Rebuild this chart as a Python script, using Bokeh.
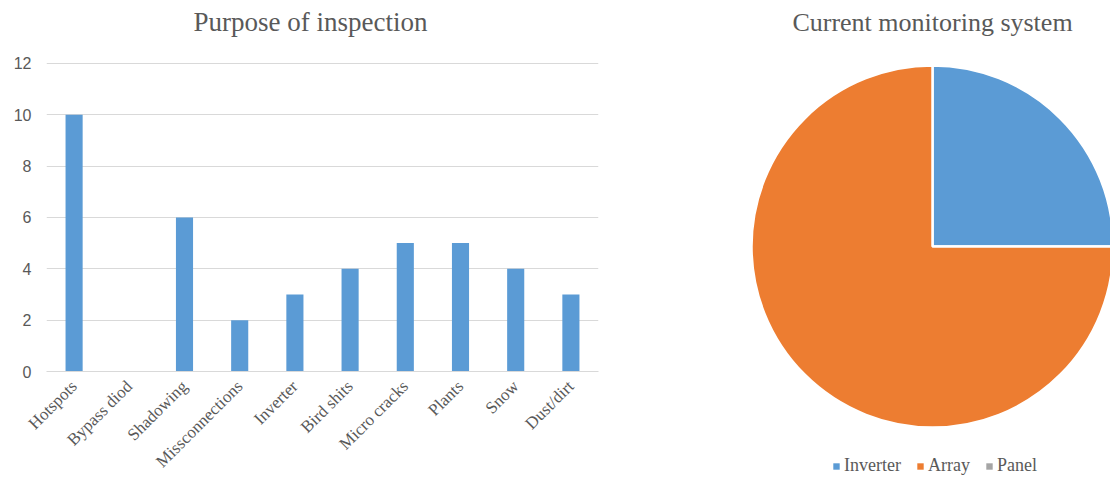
import math
import numpy as np
from bokeh.plotting import figure
from bokeh.models import ColumnDataSource, FixedTicker, Range1d, Label, CDSView, BooleanFilter
from bokeh.layouts import row
from bokeh.embed import file_html
from bokeh.resources import INLINE

# ---- data ----
categories = ["Hotspots", "Bypass diod", "Shadowing", "Missconnections", "Inverter",
              "Bird shits", "Micro cracks", "Plants", "Snow", "Dust/dirt"]
counts = [10, 0, 6, 2, 3, 4, 5, 5, 4, 3]
y_ticks = [0, 2, 4, 6, 8, 10, 12]

pie_labels = ["Inverter", "Array", "Panel"]
pie_values = [1, 3, 0]
pie_colors = ["#5B9BD5", "#ED7D31", "#A5A5A5"]

TEXT = "#595959"
GRID = "#D9D9D9"
SERIF = "Liberation Serif"

# ---- bar chart ----
# frame spans the full height above the axis; the value axis 0..12 occupies the lower 309 px,
# leaving 63 px of headroom for the chart title
AXIS_PX, HEAD_PX = 309, 63
y_max = max(y_ticks)
y_top = y_max + y_max * HEAD_PX / AXIS_PX

p1 = figure(x_range=categories, y_range=Range1d(0, y_top), width=650, height=480,
            output_backend="svg", toolbar_location=None,
            min_border_left=46, min_border_right=52, min_border_top=0, min_border_bottom=108)
p1.frame_align = False
p1.vbar(x=categories, top=counts, width=0.31, fill_color="#5B9BD5", line_color=None)
p1.add_layout(Label(x=264, y=350, x_units="screen", y_units="screen",
                    text="Purpose of inspection", text_align="center", text_baseline="middle",
                    text_font=SERIF, text_font_size="27px", text_color=TEXT))
p1.outline_line_color = None
p1.xgrid.grid_line_color = None
p1.ygrid.grid_line_color = GRID
p1.ygrid.grid_line_width = 1
p1.yaxis.ticker = FixedTicker(ticks=y_ticks)
p1.yaxis.axis_line_color = None
p1.yaxis.major_tick_line_color = None
p1.yaxis.minor_tick_line_color = None
p1.yaxis.major_tick_out = 0
p1.yaxis.major_tick_in = 0
p1.yaxis.major_label_standoff = 15
p1.yaxis.major_label_text_font = "Liberation Sans"
p1.yaxis.major_label_text_font_size = "16px"
p1.yaxis.major_label_text_color = TEXT
p1.xaxis.axis_line_color = GRID
p1.xaxis.major_tick_line_color = None
p1.xaxis.major_tick_out = 0
p1.xaxis.major_tick_in = 0
p1.xaxis.major_label_orientation = math.pi / 4
p1.xaxis.major_label_standoff = 12
p1.xaxis.major_label_text_font = SERIF
p1.xaxis.major_label_text_font_size = "17px"
p1.xaxis.major_label_text_color = TEXT

# ---- pie chart ----
total = sum(pie_values)
starts, ends = [], []
acc = 0.0
for v in pie_values:
    starts.append(math.pi / 2 - 2 * math.pi * acc / total)
    acc += v
    ends.append(math.pi / 2 - 2 * math.pi * acc / total)
src = ColumnDataSource(dict(label=pie_labels, value=pie_values, start=starts, end=ends, color=pie_colors))
view = CDSView(filter=BooleanFilter([v > 0 for v in pie_values]))

p2 = figure(width=460, height=480, x_range=Range1d(0, 460), y_range=Range1d(0, 480),
            output_backend="svg", toolbar_location=None,
            x_axis_type=None, y_axis_type=None,
            min_border=0, min_border_left=0, min_border_right=0, min_border_top=0, min_border_bottom=0)
p2.frame_align = False
p2.outline_line_color = None
p2.grid.visible = False
p2.wedge(x=282, y=234, radius=181, start_angle="start", end_angle="end", direction="clock",
         fill_color="color", line_color="white", line_width=2.5, source=src, view=view)
leg_src = ColumnDataSource(dict(label=pie_labels, color=pie_colors,
                                lx=np.full(len(pie_labels), np.nan), ly=np.full(len(pie_labels), np.nan)))
p2.rect(x="lx", y="ly", width=1, height=1, fill_color="color", line_color=None,
        legend_field="label", source=leg_src)
p2.add_layout(Label(x=282, y=458, text="Current monitoring system", text_align="center",
                    text_baseline="middle", text_font=SERIF, text_font_size="26px", text_color=TEXT))
lg = p2.legend[0]
lg.orientation = "horizontal"
lg.location = (182, 4)
lg.margin = 0
lg.padding = 0
lg.spacing = 15
lg.glyph_width = 8
lg.glyph_height = 8
lg.label_standoff = 4
lg.label_text_font = SERIF
lg.label_text_font_size = "18px"
lg.label_text_color = TEXT
lg.border_line_color = None
lg.background_fill_alpha = 0

layout = row(p1, p2, spacing=0)
open("out.html", "w").write(file_html(layout, INLINE))
